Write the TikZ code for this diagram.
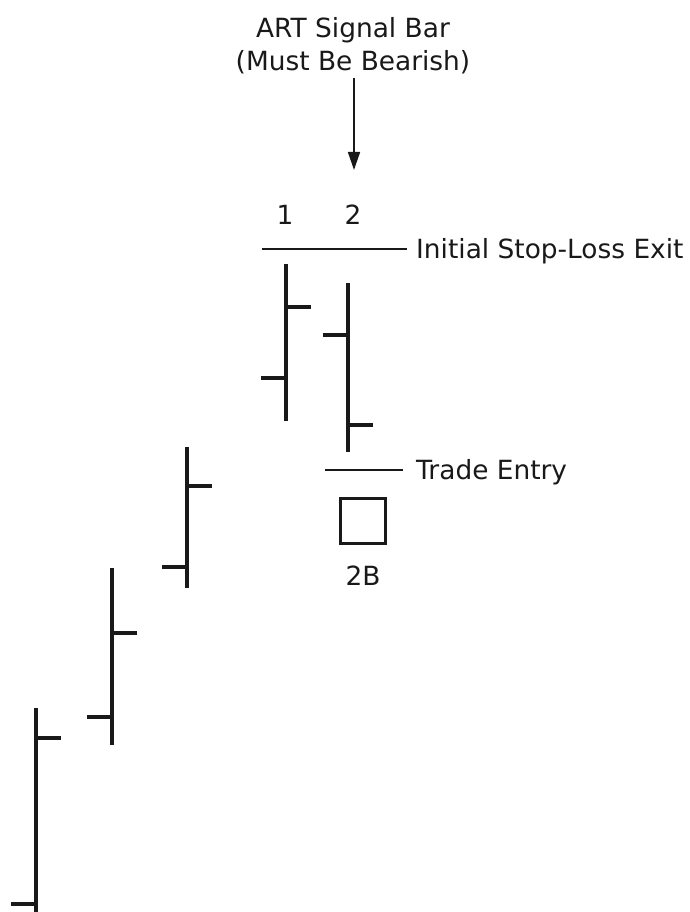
\documentclass[tikz,border=0pt]{standalone}
\usepackage{fontspec}
\setmainfont{DejaVu Sans}
\usepackage{tikz}
\usetikzlibrary{positioning,arrows.meta}

\tikzset{
  lbl/.style={font=\fontsize{26.4}{33}\selectfont, text=black!90, inner sep=0pt},
  barline/.style={line width=3.4pt, black!90},
  thinline/.style={line width=1.3pt, black!90},
}

\begin{document}
\begin{tikzpicture}[x=1pt,y=-1pt]

    \useasboundingbox (0,0) rectangle (689,912);
    \clip (0,0) rectangle (689,912);

    % price bars: x / high / low / open / close
    \foreach \x/\hi/\lo/\op/\cl in {36/708/930/904/738, 112/568/745/717/633,
        187/447/588/567/486, 286/264/421/378/307, 348/283/452/335/425} {
        \draw[barline] (\x,\hi) -- (\x,\lo);
        \draw[barline] (\x-25,\op) -- (\x,\op);
        \draw[barline] (\x,\cl) -- (\x+25,\cl);
    }

    % signal bar label
    \node[lbl, align=center] (title) at (353,46) {ART Signal Bar\\(Must Be Bearish)};
    \coordinate (sigtip) at (354,170);
    \draw[line width=1.5pt, black!90, -{Triangle[length=18pt,width=12pt]}]
        (title.south -| sigtip) ++(0,4) -- (sigtip);

    \node[lbl] (one) at (285,215) {1};
    \node[lbl] (two) at (353,215) {2};

    % stop-loss and entry levels
    \node[lbl, anchor=base west] (stoplbl) at (416,258) {Initial Stop-Loss Exit};
    \coordinate (stopstart) at (262,249);
    \draw[thinline, shorten >=9pt] (stopstart) -- (stopstart -| stoplbl.west);

    \node[lbl, anchor=base west] (entrylbl) at (416,479) {Trade Entry};
    \coordinate (entrystart) at (325,470);
    \draw[thinline, shorten >=13pt] (entrystart) -- (entrystart -| entrylbl.west);

    \node[draw, line width=3.4pt, black!90, minimum size=45pt, inner sep=0pt] (box) at (363,521) {};
    \node[lbl] (twob) at (363,576) {2B};

\end{tikzpicture}
\end{document}
